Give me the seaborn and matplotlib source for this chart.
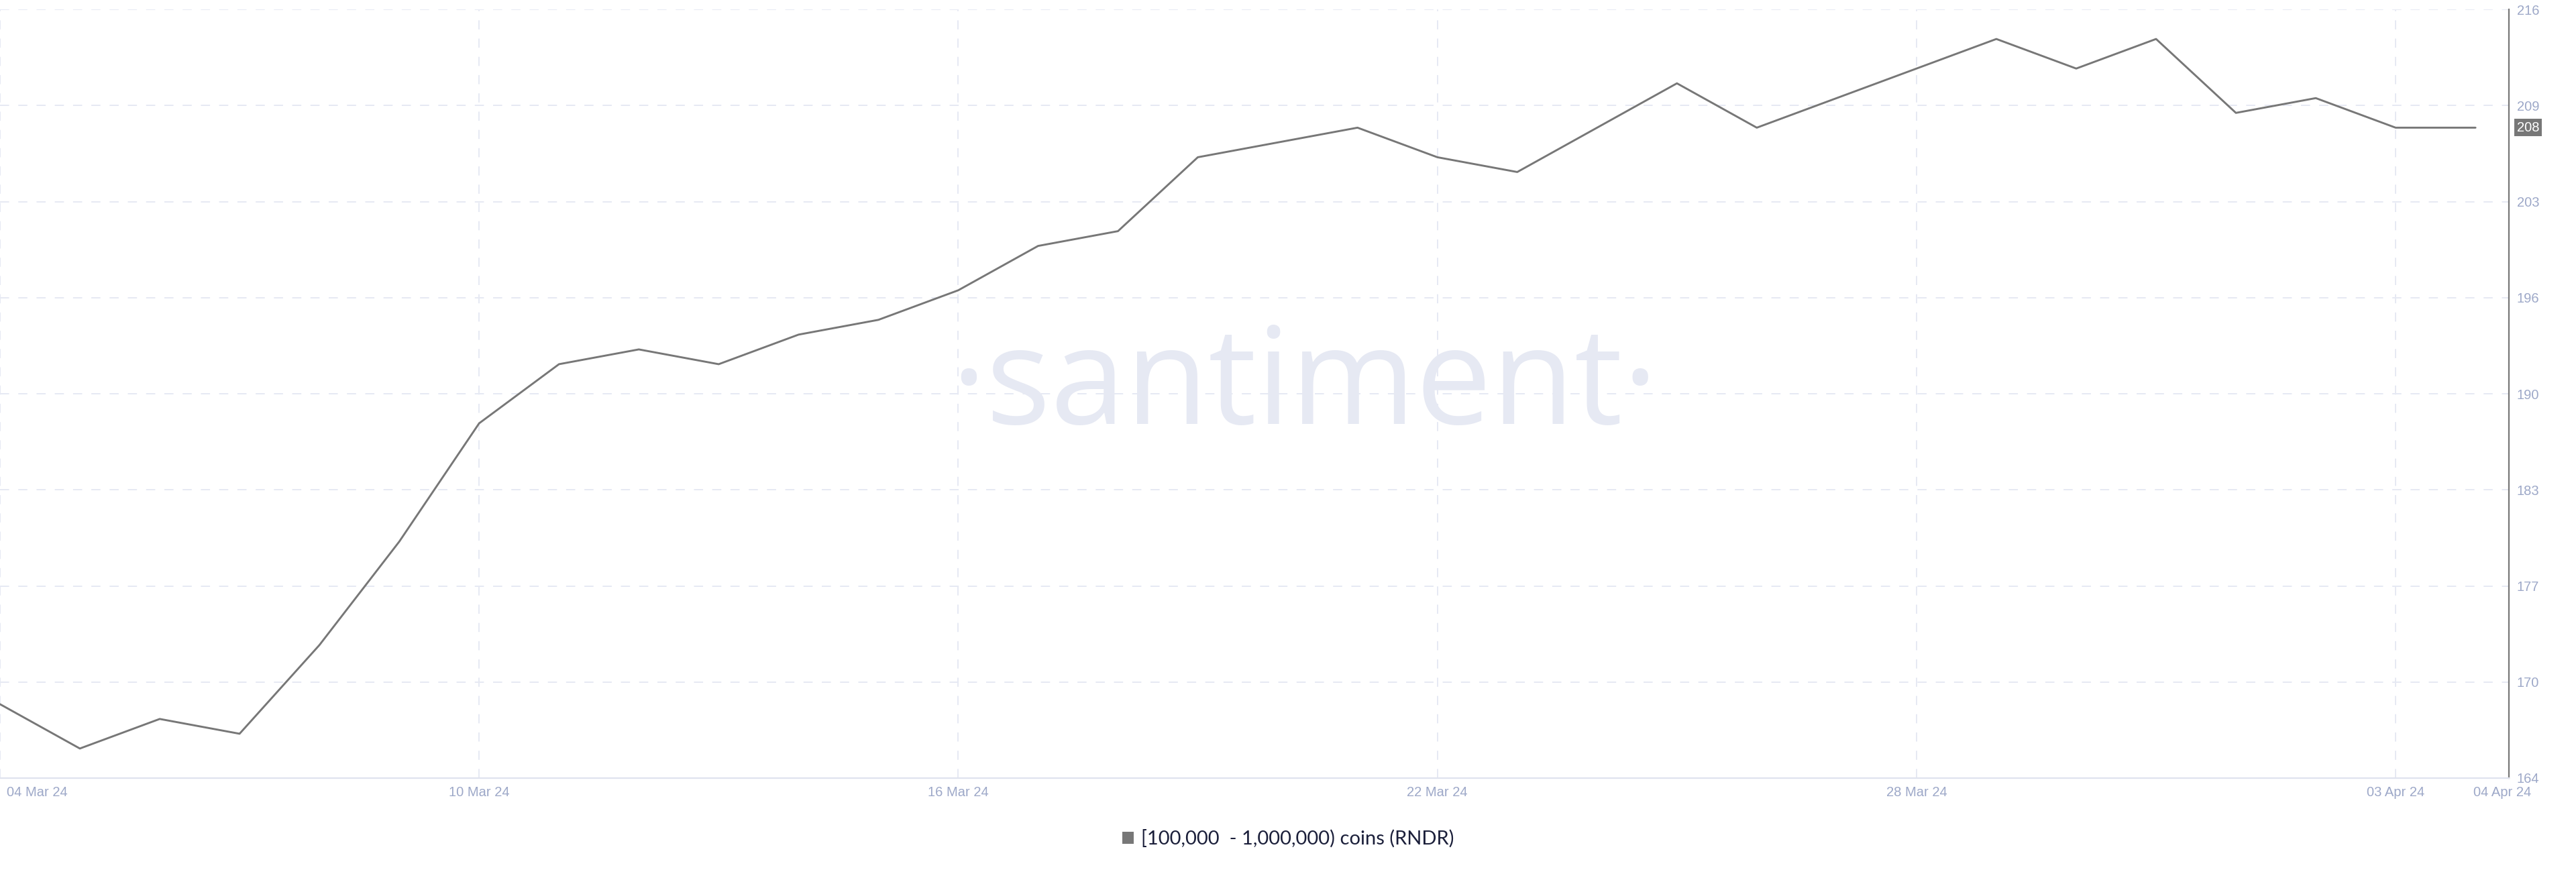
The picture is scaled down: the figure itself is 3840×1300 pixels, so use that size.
import pandas as pd
import numpy as np
import seaborn as sns
import matplotlib.pyplot as plt
import matplotlib.dates as mdates
import matplotlib.transforms as mtransforms
from matplotlib import font_manager
from matplotlib.patches import Patch

# data: daily holder count, 04 Mar 24 - 04 Apr 24
start_date = "2024-03-04"
holders = [169, 166, 168, 167, 173, 180, 188, 192, 193, 192, 194, 195, 197, 200, 201, 206,
           207, 208, 206, 205, 208, 211, 208, 210, 212, 214, 212, 214, 209, 210, 208, 208]
series_label = "[100,000  - 1,000,000) coins (RNDR)"

x_tick_dates = ["2024-03-04", "2024-03-10", "2024-03-16", "2024-03-22",
                "2024-03-28", "2024-04-03", "2024-04-04"]
y_ticks = [164, 170.5, 177, 183.5, 190, 196.5, 203, 209.5, 216]
y_tick_labels = ["164", "170", "177", "183", "190", "196", "203", "209", "216"]

df = pd.DataFrame({
    "date": pd.date_range(start_date, periods=len(holders), freq="D"),
    "holders": holders,
})

sns.set_theme(style="white")
plt.rcParams["font.family"] = ["Liberation Sans", "DejaVu Sans"]

label_col = "#9da8c8"
grid_col = "#e6e9f3"
line_col = "#777777"

fig = plt.figure(figsize=(38.4, 13), dpi=100)
ax = fig.add_axes([0, 0.1077, 0.974, 0.8815])

sns.lineplot(data=df, x="date", y="holders", color=line_col, linewidth=2.1,
             ax=ax, legend=False, zorder=3)

# axes ranges
t0 = df["date"].iloc[0]
ax.set_xlim(t0, t0 + pd.Timedelta(days=31.42))
ax.set_ylim(y_ticks[0], y_ticks[-1])

# ticks
ax.yaxis.tick_right()
ax.set_yticks(y_ticks)
ax.set_yticklabels(y_tick_labels)
ax.set_xticks(pd.to_datetime(x_tick_dates))
ax.xaxis.set_major_formatter(mdates.DateFormatter("%d %b %y"))
ax.tick_params(axis="both", length=0, labelsize=14.5, labelcolor=label_col)
ax.tick_params(axis="y", pad=8.5)
ax.tick_params(axis="x", pad=9)
ax.set_xlabel("")
ax.set_ylabel("")

# shift first/last date labels like the original
xlabels = ax.get_xticklabels()
xlabels[0].set_transform(xlabels[0].get_transform() +
                         mtransforms.ScaledTranslation(0.55, 0, fig.dpi_scale_trans))
xlabels[-1].set_transform(xlabels[-1].get_transform() +
                          mtransforms.ScaledTranslation(0.40, 0, fig.dpi_scale_trans))

# grid
ax.set_axisbelow(True)
ax.grid(True, color=grid_col, linewidth=1.4, linestyle=(0, (7, 7)))
ax.get_xgridlines()[-1].set_visible(False)

# spines
for s in ["left", "top"]:
    ax.spines[s].set_visible(False)
ax.spines["right"].set_color(line_col)
ax.spines["right"].set_linewidth(1.6)
ax.spines["bottom"].set_color("#dfe3ee")
ax.spines["bottom"].set_linewidth(1.6)

# last value badge
last = holders[-1]
ax.annotate(str(last), xy=(1, last), xycoords=("axes fraction", "data"),
            xytext=(8.5, 0), textcoords="offset points", ha="left", va="center",
            fontsize=14.5, color="white",
            bbox=dict(boxstyle="square,pad=0.18", fc=line_col, ec="none"),
            annotation_clip=False)

# watermark (narrow face if present)
names = {f.name for f in font_manager.fontManager.ttflist}
if "Liberation Sans Narrow" in names:
    wm_family, wm_size = "Liberation Sans Narrow", 185
else:
    wm_family, wm_size = "Open Sans", 145
ax.text(0.52, 0.4607, "\u00b7santiment\u00b7", transform=ax.transAxes,
        ha="center", va="baseline", fontsize=wm_size, color="#e6e9f3",
        family=[wm_family, "DejaVu Sans"], zorder=0)

# legend
handle = Patch(facecolor=line_col, edgecolor="none")
fig.legend([handle], [series_label], loc="center", bbox_to_anchor=(0.5, 0.038),
           frameon=False, handlelength=0.6, handleheight=0.6, handletextpad=0.35,
           prop={"family": ["Lato", "DejaVu Sans"], "size": 21},
           labelcolor="#1b1f3a")

fig.savefig("out.png", dpi=100)
